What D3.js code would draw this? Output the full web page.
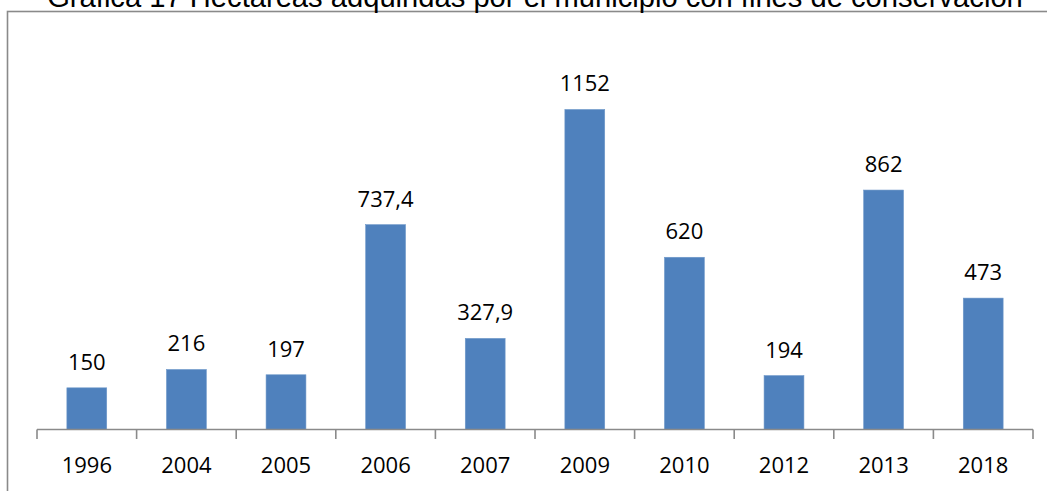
<!DOCTYPE html>
<html>
<head>
<meta charset="utf-8">
<script src="https://cdn.jsdelivr.net/npm/d3@7"></script>
<style>
  html, body { margin: 0; padding: 0; background: #fff; overflow: hidden; }
  svg { display: block; }
</style>
</head>
<body>
<svg id="chart" width="1047" height="491"></svg>
<script>
// Hectáreas adquiridas por año
const years = ["1996", "2004", "2005", "2006", "2007", "2009", "2010", "2012", "2013", "2018"];
const hectares = [150, 216, 197, 737.4, 327.9, 1152, 620, 194, 862, 473];
const valueLabels = ["150", "216", "197", "737,4", "327,9", "1152", "620", "194", "862", "473"];
const titleText = "Gráfica 17 Hectáreas adquiridas por el municipio con fines de conservación";

const svg = d3.select("#chart");
const W = 1047, H = 491;
const gray = "#8a8a8a";
const labelFont = "'Open Sans', 'Noto Sans', sans-serif";

// chart frame
svg.append("rect")
  .attr("x", 7.5).attr("y", 11.5)
  .attr("width", W + 20).attr("height", H + 20)
  .attr("fill", "none")
  .attr("stroke", gray)
  .attr("stroke-width", 1.6);

// title, sized to span its measured width
const title = svg.append("text")
  .attr("x", 535).attr("y", 7)
  .attr("text-anchor", "middle")
  .attr("font-family", "'Liberation Sans', Arial, sans-serif")
  .attr("font-size", 100)
  .attr("fill", "#000")
  .text(titleText);
const w100 = title.node().getComputedTextLength();
title.attr("font-size", 100 * 976 / w100);

const x = d3.scaleBand()
  .domain(years)
  .range([37, 1033])
  .paddingInner(0.6)
  .paddingOuter(0.3);

const y = d3.scaleLinear()
  .domain([0, 1400])
  .range([429.5, 40.6]);

// bars
svg.append("g")
  .selectAll("rect")
  .data(years)
  .join("rect")
  .attr("x", (d) => x(d))
  .attr("width", x.bandwidth())
  .attr("y", (d, i) => y(hectares[i]))
  .attr("height", (d, i) => y(0) - y(hectares[i]))
  .attr("fill", "#4f81bd")
  .attr("stroke", "#6d97c9")
  .attr("stroke-width", 0.6);

// value labels
svg.append("g")
  .selectAll("text")
  .data(years)
  .join("text")
  .attr("x", (d) => x(d) + x.bandwidth() / 2)
  .attr("y", (d, i) => y(hectares[i]) - 18)
  .attr("text-anchor", "middle")
  .attr("font-family", labelFont)
  .attr("font-size", 22)
  .attr("fill", "#000")
  .text((d, i) => valueLabels[i]);

// category axis
const axisG = svg.append("g").attr("transform", `translate(0,${y(0)})`);
axisG.call(d3.axisBottom(x).tickSize(0).tickPadding(0));
axisG.select(".domain").remove();
axisG.selectAll(".tick text")
  .attr("y", 43.8)
  .attr("dy", 0)
  .attr("font-family", labelFont)
  .attr("font-size", 22)
  .attr("fill", "#000");

const x0 = x.range()[0];
axisG.append("line")
  .attr("x1", x0).attr("x2", x.range()[1])
  .attr("y1", 0).attr("y2", 0)
  .attr("stroke", gray).attr("stroke-width", 1.6);

axisG.selectAll(".boundary")
  .data(d3.range(years.length + 1))
  .join("line")
  .attr("class", "boundary")
  .attr("x1", (i) => x0 + i * x.step())
  .attr("x2", (i) => x0 + i * x.step())
  .attr("y1", 0).attr("y2", 9.5)
  .attr("stroke", gray).attr("stroke-width", 1.6);
</script>
</body>
</html>
